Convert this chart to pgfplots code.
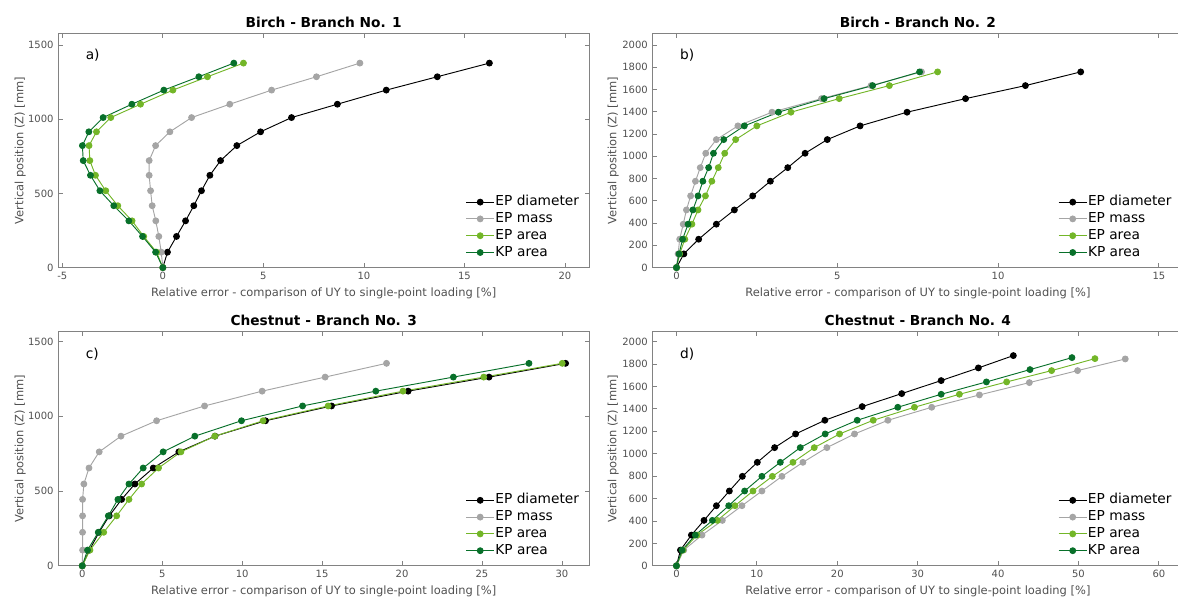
\documentclass[border=0pt]{standalone}
\usepackage{fontspec}
\setmainfont{DejaVu Sans}
\usepackage{pgfplots}
\pgfplotsset{compat=1.18}

\definecolor{axgray}{RGB}{130,130,130}
\definecolor{lblgray}{RGB}{80,80,80}
\definecolor{cmass}{RGB}{165,165,165}
\definecolor{cepa}{RGB}{115,182,40}
\definecolor{ckpa}{RGB}{8,112,42}

\pgfplotsset{
  panel/.style={
    scale only axis, width=398.25pt, height=175.8pt, anchor=south west,
    clip=false,
    axis line style={axgray, line width=0.6pt, -},
    every tick/.style={axgray, line width=0.6pt},
    major tick length=3.4pt,
    tick label style={font=\fontsize{7.5}{9}\selectfont, text=lblgray},
    /pgf/number format/assume math mode=true,
    /pgf/number format/1000 sep={},
    label style={font=\fontsize{8.6}{10}\selectfont, text=lblgray},
    xlabel={Relative error - comparison of UY to single-point loading [\%]},
    ylabel={Vertical position (Z) [mm]},
    xlabel style={at={(axis description cs:0.5,-0.123)}, anchor=base},
    ylabel style={at={(axis description cs:-0.066,0.5)}, anchor=base},
    every axis title/.style={font=\fontsize{10.3}{12}\selectfont\bfseries,
      at={(axis description cs:0.5,1)}, anchor=base, yshift=4.6pt},
    legend style={at={(axis description cs:0.983,0.032)}, anchor=south east,
      draw=none, fill=none, inner sep=0pt, row sep=1.6pt,
      font=\fontsize{10.3}{12}\selectfont,
      nodes={inner sep=0.6pt, text height=7.6pt, text depth=2.2pt}},
    legend cell align=left,
    legend image code/.code={\draw[mark repeat=2,mark phase=2] plot coordinates {(0pt,0pt) (10.5pt,0pt) (21pt,0pt)};},
    legend entries={EP diameter, EP mass, EP area, KP area},
  },
  % right-hand panels run past the picture's right edge: no right spine
  cutpanel/.style={
    width=393.98pt,
    axis x line*=box, axis y line*=left,
    xlabel style={at={(axis description cs:0.5054,-0.123)}},
    ylabel style={at={(axis description cs:-0.0687,0.5)}},
    title style={at={(axis description cs:0.5054,1)}},
    legend style={at={(axis description cs:0.9905,0.032)}},
  },
  sdiam/.style={black, line width=0.7pt, mark=*, mark size=2.2pt, mark options={solid, fill=black, draw=black}},
  smass/.style={cmass, line width=0.7pt, mark=*, mark size=2.2pt, mark options={solid, fill=cmass, draw=cmass}},
  sepa/.style={cepa, line width=0.7pt, mark=*, mark size=2.2pt, mark options={solid, fill=cepa, draw=cepa}},
  skpa/.style={ckpa, line width=0.7pt, mark=*, mark size=2.2pt, mark options={solid, fill=ckpa, draw=ckpa}},
}
\newcommand{\panellabel}[2]{\node[anchor=west, font=\fontsize{10.3}{12}\selectfont] at (axis description cs:#1,0.905) {#2};}

\begin{document}
\begin{tikzpicture}
\path (0pt,0pt) rectangle (883.5pt,447pt);

% a) Birch - Branch No. 1
\begin{axis}[panel, at={(43.73pt,246.23pt)},
  title={Birch - Branch No. 1},
  xmin=-5.2, xmax=21.2, ymin=0, ymax=1579,
  xtick={-5,0,5,10,15,20}, ytick={0,500,1000,1500}]
\addplot[sdiam] coordinates {(0,0) (0.23,104) (0.68,210) (1.13,315) (1.54,417) (1.92,518) (2.34,622) (2.87,721) (3.68,822) (4.86,915) (6.40,1011) (8.68,1101) (11.11,1196) (13.65,1286) (16.24,1378)};
\addplot[smass] coordinates {(0,0) (-0.08,104) (-0.20,210) (-0.35,315) (-0.53,417) (-0.61,518) (-0.68,622) (-0.68,721) (-0.36,822) (0.35,915) (1.43,1011) (3.33,1101) (5.41,1196) (7.64,1286) (9.80,1378)};
\addplot[sepa] coordinates {(0,0) (-0.31,104) (-0.95,210) (-1.53,315) (-2.24,417) (-2.84,518) (-3.35,622) (-3.63,721) (-3.67,822) (-3.30,915) (-2.59,1011) (-1.11,1101) (0.50,1196) (2.22,1286) (4.01,1378)};
\addplot[skpa] coordinates {(0,0) (-0.36,104) (-1.01,210) (-1.69,315) (-2.44,417) (-3.13,518) (-3.60,622) (-3.96,721) (-4.00,822) (-3.68,915) (-2.97,1011) (-1.54,1101) (0.05,1196) (1.79,1286) (3.53,1378)};
\panellabel{0.043}{a)}
\end{axis}

% b) Birch - Branch No. 2
\begin{axis}[panel, cutpanel, at={(489.53pt,246.23pt)},
  title={Birch - Branch No. 2},
  xmin=-0.746, xmax=15.583, ymin=0, ymax=2105,
  xtick={0,5,10,15}, ytick={0,200,...,2000}]
\addplot[sdiam] coordinates {(0,0) (0.23,123) (0.69,255) (1.24,390) (1.80,518) (2.37,644) (2.92,776) (3.46,898) (4.00,1027) (4.69,1150) (5.71,1273) (7.17,1396) (8.99,1518) (10.85,1635) (12.57,1758)};
\addplot[smass] coordinates {(0,0) (0.05,123) (0.10,255) (0.21,390) (0.31,518) (0.44,644) (0.59,776) (0.74,898) (0.91,1027) (1.24,1150) (1.91,1273) (2.97,1396) (4.51,1518) (6.05,1635) (7.62,1758)};
\addplot[sepa] coordinates {(0,0) (0.10,123) (0.26,255) (0.48,390) (0.67,518) (0.90,644) (1.10,776) (1.30,898) (1.50,1027) (1.84,1150) (2.50,1273) (3.56,1396) (5.06,1518) (6.62,1635) (8.12,1758)};
\addplot[skpa] coordinates {(0,0) (0.08,123) (0.19,255) (0.36,390) (0.51,518) (0.67,644) (0.82,776) (1.00,898) (1.15,1027) (1.47,1150) (2.11,1273) (3.17,1396) (4.59,1518) (6.10,1635) (7.56,1758)};
\panellabel{0.0435}{b)}
\end{axis}

% c) Chestnut - Branch No. 3
\begin{axis}[panel, at={(43.73pt,22.5pt)},
  title={Chestnut - Branch No. 3},
  xmin=-1.5, xmax=31.7, ymin=0, ymax=1567,
  xtick={0,5,...,30}, ytick={0,500,1000,1500}]
\addplot[sdiam] coordinates {(0,0) (0.45,105) (1.05,224) (1.69,334) (2.46,444) (3.29,547) (4.44,654) (6.04,762) (8.30,867) (11.46,970) (15.59,1069) (20.38,1168) (25.44,1262) (30.23,1354)};
\addplot[smass] coordinates {(0,0) (0.02,105) (0.02,224) (0.02,334) (0.02,444) (0.10,547) (0.42,654) (1.06,762) (2.42,867) (4.65,970) (7.65,1069) (11.25,1168) (15.19,1262) (19.03,1354)};
\addplot[sepa] coordinates {(0,0) (0.48,105) (1.34,224) (2.15,334) (2.92,444) (3.71,547) (4.77,654) (6.17,762) (8.29,867) (11.31,970) (15.38,1069) (20.06,1168) (25.11,1262) (30.02,1354)};
\addplot[skpa] coordinates {(0,0) (0.33,105) (1.00,224) (1.63,334) (2.23,444) (2.92,547) (3.81,654) (5.06,762) (7.04,867) (9.96,970) (13.78,1069) (18.36,1168) (23.21,1262) (27.94,1354)};
\panellabel{0.043}{c)}
\end{axis}

% d) Chestnut - Branch No. 4
\begin{axis}[panel, cutpanel, at={(489.53pt,22.5pt)},
  title={Chestnut - Branch No. 4},
  xmin=-2.98, xmax=62.33, ymin=0, ymax=2090,
  xtick={0,10,...,60}, ytick={0,200,...,2000}]
\addplot[sdiam] coordinates {(0,0) (0.50,140) (1.86,274) (3.43,405) (4.97,536) (6.58,667) (8.20,798) (10.06,923) (12.21,1054) (14.82,1176) (18.46,1298) (23.10,1420) (28.02,1536) (32.92,1652) (37.55,1765) (41.90,1875)};
\addplot[smass] coordinates {(0,0) (0.91,140) (3.18,274) (5.71,405) (8.15,536) (10.63,667) (13.12,798) (15.73,923) (18.71,1054) (22.15,1176) (26.30,1298) (31.75,1414) (37.68,1524) (43.89,1634) (49.89,1741) (55.82,1845)};
\addplot[sepa] coordinates {(0,0) (0.82,140) (2.56,274) (5.09,405) (7.28,536) (9.52,667) (11.93,798) (14.49,923) (17.14,1054) (20.29,1176) (24.47,1298) (29.60,1414) (35.19,1530) (41.07,1640) (46.66,1741) (52.05,1848)};
\addplot[skpa] coordinates {(0,0) (0.70,140) (2.35,274) (4.47,405) (6.50,536) (8.48,667) (10.63,798) (12.92,923) (15.40,1054) (18.50,1176) (22.48,1298) (27.53,1414) (32.92,1530) (38.55,1640) (43.97,1750) (49.19,1857)};
\panellabel{0.0435}{d)}
\end{axis}
\end{tikzpicture}
\end{document}
